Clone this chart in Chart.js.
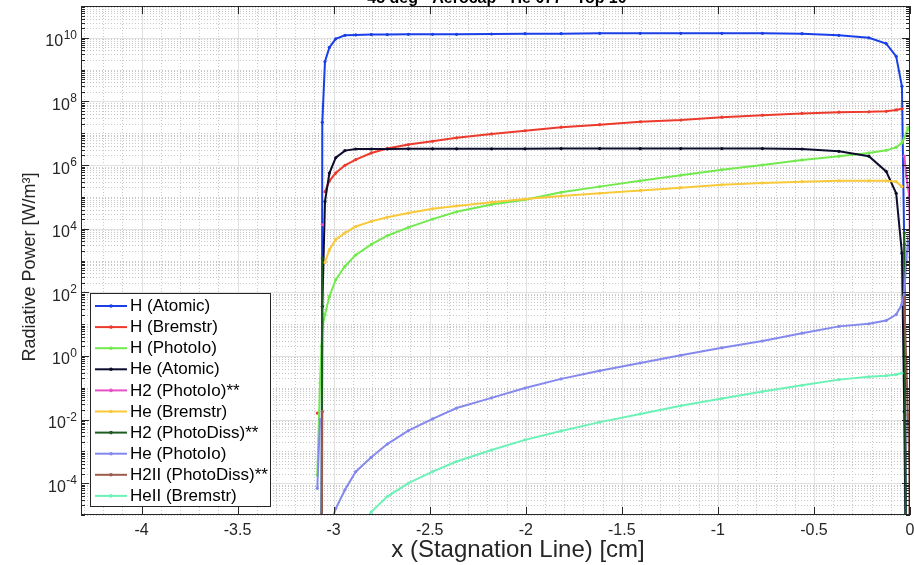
<!DOCTYPE html>
<html>
<head>
<meta charset="utf-8">
<title>Radiative power along the stagnation line</title>
<script src="https://cdn.jsdelivr.net/npm/chart.js@4.4.1/dist/chart.umd.min.js"></script>
<style>
  html, body { margin: 0; padding: 0; background: #fff; overflow: hidden; }
  #wrap { width: 914px; height: 565px; overflow: hidden; }
</style>
</head>
<body>
<div id="wrap"><canvas id="radChart" width="914" height="565"></canvas></div>
<script>
// positions along the stagnation line [cm]; shock at about -3.06, wall at 0
const xPos = [-3.085, -3.071, -3.063, -3.059, -3.045, -3.022, -2.989, -2.941, -2.885, -2.804,
  -2.721, -2.611, -2.485, -2.36, -2.178, -2.004, -1.816, -1.615, -1.404, -1.193,
  -0.979, -0.768, -0.562, -0.370, -0.214, -0.124, -0.072, -0.042, -0.030, -0.019,
  -0.011, -0.004, 0];

// radiative power [W/m^3], null where the term is zero
const hAtomic = [null, null, 1e-8, 2.2e7, 1.8e9, 5.0e9, 9.3e9, 1.2e10, 1.23e10, 1.26e10,
  1.26e10, 1.29e10, 1.29e10, 1.29e10, 1.32e10, 1.35e10, 1.35e10, 1.38e10, 1.38e10, 1.38e10,
  1.38e10, 1.38e10, 1.35e10, 1.2e10, 1.0e10, 6.6e9, 2.6e9, 3.0e8, 3.2e3, 1e-8,
  null, null, null];
const hBremstr = [0.016, null, null, null, 1.45e5, 3.2e5, 5.6e5, 9.8e5, 1.48e6, 2.4e6,
  3.3e6, 4.4e6, 5.6e6, 7.2e6, 9.5e6, 1.2e7, 1.55e7, 1.86e7, 2.3e7, 2.6e7,
  3.2e7, 3.7e7, 4.2e7, 4.6e7, 4.7e7, 4.9e7, 5.4e7, 5.9e7, null, null,
  null, null, null];
const hPhotoIo = [1.8e-4, 0.14, 2.0, 7.9, 20, 74, 250, 660, 1500, 3200,
  6000, 1.1e4, 2.0e4, 3.4e4, 5.8e4, 8.1e4, 1.4e5, 2.1e5, 3.2e5, 4.8e5,
  7.1e5, 1.0e6, 1.45e6, 1.9e6, 2.4e6, 2.9e6, 3.6e6, 5.0e6, 7.1e6, 1.0e7,
  1.5e7, 1.3e7, 1.2e7];
const heAtomic = [null, null, 1e-8, 36, 7.2e4, 5.6e5, 1.7e6, 2.85e6, 3.2e6, 3.2e6,
  3.2e6, 3.25e6, 3.25e6, 3.25e6, 3.25e6, 3.25e6, 3.3e6, 3.3e6, 3.3e6, 3.3e6,
  3.3e6, 3.3e6, 3.2e6, 2.7e6, 1.9e6, 6.3e5, 1.3e5, 1.7e3, 0.018, 1e-8,
  null, null, null];
const h2PhotoIo = [null, null, null, 1.35e4, null, null, null, null, null, null,
  null, null, null, null, null, null, null, null, null, null,
  null, null, null, null, null, null, null, null, 1.9e6, 4.5e5,
  2.0e5, 1.05e5, 3.2e3];
const heBremstr = [null, null, null, null, 870, 2.2e3, 4.6e3, 7.4e3, 1.17e4, 1.7e4,
  2.3e4, 3.1e4, 4.2e4, 5.2e4, 6.8e4, 8.5e4, 1.07e5, 1.3e5, 1.6e5, 1.95e5,
  2.4e5, 2.75e5, 3.0e5, 3.2e5, 3.2e5, 3.2e5, 3.0e5, 2.1e5, null, null,
  null, null, null];
const h2PhotoDiss = [null, null, 1e-8, 1.2e3, null, null, null, null, null, null,
  null, null, null, null, null, null, null, null, null, null,
  null, null, null, null, null, null, null, null, 7.4e3, 1e-8,
  null, null, null];
const hePhotoIo = [6.9e-5, 0.01, null, null, null, 4e-6, 1.6e-5, 6.2e-5, 2.3e-4, 6.5e-4,
  1.7e-3, 4.5e-3, 0.0105, 0.023, 0.048, 0.098, 0.19, 0.34, 0.6, 1.05,
  1.8, 2.95, 5.2, 8.5, 10.2, 12.9, 20, 42, 100, 1000,
  4000, 2500, 1260];
const h2iiPhotoDiss = [null, null, 1e-8, 0.018, null, null, null, null, null, null,
  null, null, null, null, null, null, null, null, null, null,
  null, null, null, null, null, null, null, null, 66, 0.6,
  0.014, 5.5e-4, 1e-8];
const heiiBremstr = [null, null, null, null, null, null, null, null, 2.5e-6, 1.26e-5,
  3.8e-5, 1.0e-4, 2.3e-4, 4.8e-4, 1.1e-3, 2.3e-3, 4.4e-3, 8.3e-3, 0.015, 0.027,
  0.046, 0.076, 0.12, 0.18, 0.22, 0.24, 0.26, 0.29, null, null,
  null, null, null];

const seriesNames = ['H (Atomic)', 'H (Bremstr)', 'H (PhotoIo)', 'He (Atomic)', 'H2 (PhotoIo)**',
  'He (Bremstr)', 'H2 (PhotoDiss)**', 'He (PhotoIo)', 'H2II (PhotoDiss)**', 'HeII (Bremstr)'];
const seriesValues = [hAtomic, hBremstr, hPhotoIo, heAtomic, h2PhotoIo,
  heBremstr, h2PhotoDiss, hePhotoIo, h2iiPhotoDiss, heiiBremstr];
const seriesColors = ['#1a3fe6', '#ec3a2c', '#72ea4e', '#0c0c2c', '#e652c6',
  '#f9c93a', '#1e5c22', '#8489ee', '#9c5b4c', '#6cf2b6'];

const xTicks = [-4, -3.5, -3, -2.5, -2, -1.5, -1, -0.5, 0];
const yLabelExps = [-4, -2, 0, 2, 4, 6, 8, 10];

const FONT = '"Liberation Sans", Arial, Helvetica, sans-serif';
const AXIS_COLOR = '#262626';

const datasets = seriesValues.map(function(vals, i){
    return {
        label: seriesNames[i],
        data: xPos.map(function(x, j){ return {x: x, y: vals[j]}; }),
        borderColor: seriesColors[i],
        backgroundColor: seriesColors[i],
        pointBackgroundColor: seriesColors[i],
        pointBorderColor: seriesColors[i],
        borderWidth: 2,
        pointRadius: 1.6,
        pointBorderWidth: 0,
        tension: 0,
        spanGaps: false,
        order: -i   // later series on top
    };
});

function hLine(ctx, y, x0, x1){
    y = Math.round(y) + 0.5;
    ctx.beginPath(); ctx.moveTo(x0, y); ctx.lineTo(x1, y); ctx.stroke();
}
function vLine(ctx, x, y0, y1){
    x = Math.round(x) + 0.5;
    ctx.beginPath(); ctx.moveTo(x, y0); ctx.lineTo(x, y1); ctx.stroke();
}

// grid, box, inward ticks, labels and the legend, drawn the way the original axes look
const axesDecor = {
    id: 'axesDecor',
    beforeDatasetsDraw: function(chart){
        const ctx = chart.ctx, a = chart.chartArea;
        const xs = chart.scales.x, ys = chart.scales.y;
        ctx.save();
        ctx.lineWidth = 1;

        // minor grid (dotted)
        ctx.strokeStyle = '#c9c9c9';
        ctx.setLineDash([1, 2]);
        for (let k = -43; k < 0; k++){
            if (k % 5 === 0) continue;
            vLine(ctx, xs.getPixelForValue(k / 10), a.top, a.bottom);
        }
        for (let e = -5; e <= 10; e++){
            for (let m = 1; m <= 9; m++){
                if (m === 1 && e % 2 === 0) continue;
                hLine(ctx, ys.getPixelForValue(m * Math.pow(10, e)), a.left, a.right);
            }
        }

        // major grid (solid)
        ctx.setLineDash([]);
        ctx.strokeStyle = '#e1e1e1';
        xTicks.forEach(function(v){
            if (v > -4.3 && v < 0) vLine(ctx, xs.getPixelForValue(v), a.top, a.bottom);
        });
        yLabelExps.forEach(function(e){
            hLine(ctx, ys.getPixelForValue(Math.pow(10, e)), a.left, a.right);
        });
        ctx.restore();
    },
    afterDatasetsDraw: function(chart){
        const ctx = chart.ctx, a = chart.chartArea;
        const xs = chart.scales.x, ys = chart.scales.y;
        ctx.save();
        ctx.lineWidth = 1;
        ctx.strokeStyle = AXIS_COLOR;

        // box
        ctx.strokeRect(Math.round(a.left) + 0.5, Math.round(a.top) + 0.5,
            Math.round(a.right - a.left) - 1, Math.round(a.bottom - a.top) - 1);

        // inward ticks
        xTicks.forEach(function(v){
            const px = xs.getPixelForValue(v);
            vLine(ctx, px, a.top, a.top + 8);
            vLine(ctx, px, a.bottom - 8, a.bottom);
        });
        for (let e = -5; e <= 10; e++){
            for (let m = 1; m <= 9; m++){
                const py = ys.getPixelForValue(m * Math.pow(10, e));
                const len = (m === 1 && e % 2 === 0) ? 8 : 4;
                hLine(ctx, py, a.left, a.left + len);
                hLine(ctx, py, a.right - len, a.right);
            }
        }

        // x tick labels
        ctx.fillStyle = AXIS_COLOR;
        ctx.font = '16px ' + FONT;
        ctx.textAlign = 'center';
        ctx.textBaseline = 'middle';
        xTicks.forEach(function(v){
            ctx.fillText(String(v), xs.getPixelForValue(v), a.bottom + 16);
        });

        // y tick labels as 10 with a raised exponent
        ctx.textBaseline = 'alphabetic';
        ctx.textAlign = 'left';
        yLabelExps.forEach(function(e){
            const py = ys.getPixelForValue(Math.pow(10, e));
            const sup = String(e);
            ctx.font = '12px ' + FONT;
            const ws = ctx.measureText(sup).width;
            ctx.font = '16px ' + FONT;
            const wb = ctx.measureText('10').width;
            const right = 77;
            ctx.fillText('10', right - ws - wb - 0.5, py + 8.5);
            ctx.font = '12px ' + FONT;
            ctx.fillText(sup, right - ws, py + 1);
        });

        // axis titles
        ctx.textAlign = 'center';
        ctx.textBaseline = 'middle';
        ctx.font = '24px ' + FONT;
        ctx.fillText('x (Stagnation Line) [cm]', 518, 550);

        ctx.save();
        ctx.translate(30, 267);
        ctx.rotate(-Math.PI / 2);
        ctx.font = '18px ' + FONT;
        ctx.fillText('Radiative Power [W/m\u00b3]', 0, 0);
        ctx.restore();

        // plot title, mostly above the page edge
        ctx.fillStyle = '#000';
        ctx.textBaseline = 'alphabetic';
        ctx.font = 'bold 16px ' + FONT;
        ctx.fillText('45 deg - Aerocap - He 077 - Top 10', 497, 3);

        // legend box in the lower left corner of the axes
        const lx = 90, ly = 293, lw = 180, lh = 213;
        ctx.fillStyle = '#fff';
        ctx.fillRect(lx, ly, lw, lh);
        ctx.strokeStyle = AXIS_COLOR;
        ctx.strokeRect(lx + 0.5, ly + 0.5, lw, lh);
        ctx.font = '17px ' + FONT;
        ctx.textAlign = 'left';
        ctx.textBaseline = 'middle';
        seriesNames.forEach(function(name, i){
            const ry = ly + 13 + i * 21.1;
            ctx.strokeStyle = seriesColors[i];
            ctx.lineWidth = 2;
            ctx.beginPath(); ctx.moveTo(95, ry); ctx.lineTo(127, ry); ctx.stroke();
            ctx.fillStyle = seriesColors[i];
            ctx.beginPath(); ctx.arc(111, ry, 1.8, 0, 2 * Math.PI); ctx.fill();
            ctx.fillStyle = '#000';
            ctx.fillText(name, 130, ry + 0.5);
        });
        ctx.restore();
    }
};

const chart = new Chart(document.getElementById('radChart'), {
    type: 'line',
    data: { datasets: datasets },
    options: {
        responsive: false,
        animation: false,
        devicePixelRatio: 1,
        events: [],
        layout: { padding: { top: 6, right: 1, bottom: 0, left: 0 } },
        plugins: {
            legend: { display: false },
            tooltip: { enabled: false }
        },
        scales: {
            x: {
                type: 'linear',
                min: -4.315,
                max: 0,
                grid: { display: false, drawTicks: false },
                border: { display: false },
                ticks: { display: false },
                afterFit: function(s){ s.height = 50; }
            },
            y: {
                type: 'logarithmic',
                min: 1e-5,
                max: 1e11,
                grid: { display: false, drawTicks: false },
                border: { display: false },
                ticks: { display: false },
                afterFit: function(s){ s.width = 81; }
            }
        }
    },
    plugins: [axesDecor]
});
</script>
</body>
</html>
